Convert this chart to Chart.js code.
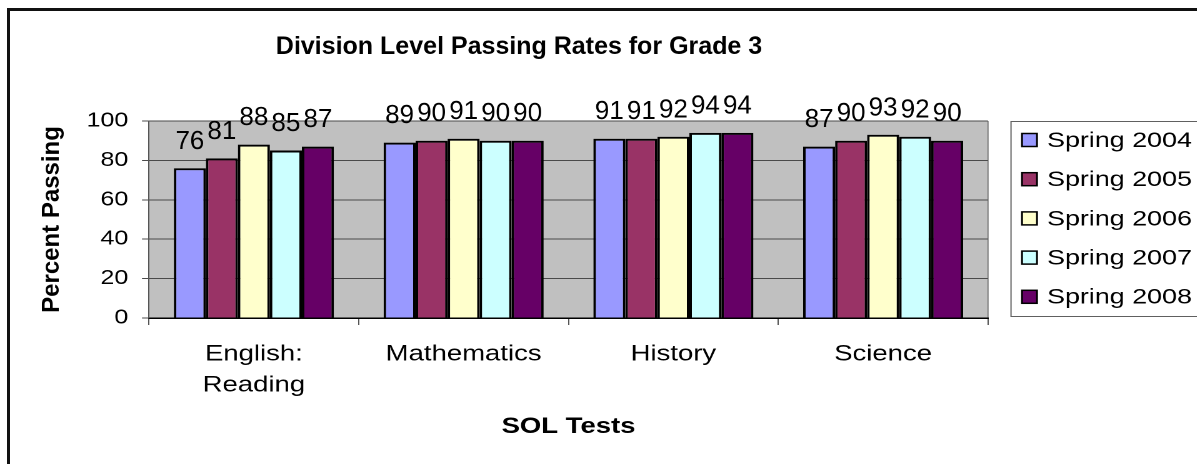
<!DOCTYPE html>
<html>
<head>
<meta charset="utf-8">
<script src="https://cdn.jsdelivr.net/npm/chart.js@4.4.1/dist/chart.umd.min.js"></script>
<style>
    html, body { margin: 0; padding: 0; background: #fff; overflow: hidden; }
    #frame {
        position: absolute; left: 7px; top: 8px; width: 2000px; height: 1000px;
        border-left: 3px solid #111; border-top: 3px solid #111;
    }
    /* the old Excel picture has wide, stretched axis text: draw narrower and stretch */
    #wrap {
        position: absolute; left: 0; top: 0; width: 958px; height: 464px;
        transform: scaleX(1.25); transform-origin: 0 0;
    }
</style>
</head>
<body>
<div id="frame"></div>
<div id="wrap"><canvas id="chart"></canvas></div>
<script>
const S = 1.25; // horizontal stretch

const chartTitle = 'Division Level Passing Rates for Grade 3';
const yTitle = 'Percent Passing';
const xTitle = 'SOL Tests';
const categories = [['English:', 'Reading'], 'Mathematics', 'History', 'Science'];
const seriesNames = ['Spring 2004', 'Spring 2005', 'Spring 2006', 'Spring 2007', 'Spring 2008'];
const spring2004 = [76, 89, 91, 87];
const spring2005 = [81, 90, 91, 90];
const spring2006 = [88, 91, 92, 93];
const spring2007 = [85, 90, 94, 92];
const spring2008 = [87, 90, 94, 90];
const yTicks = [0, 20, 40, 60, 80, 100];
const colors = ['#9999FF', '#993366', '#FFFFCC', '#CCFFFF', '#660066'];

const font = '"Liberation Sans", Arial, sans-serif';
const allSeries = [spring2004, spring2005, spring2006, spring2007, spring2008];

// grey plot area
const plotBg = {
    id: 'plotBg',
    beforeDraw(chart) {
        const a = chart.chartArea, ctx = chart.ctx;
        ctx.save();
        ctx.fillStyle = '#C0C0C0';
        ctx.fillRect(a.left, a.top, a.right - a.left, a.bottom - a.top);
        ctx.strokeStyle = '#808080';
        ctx.lineWidth = 1;
        ctx.beginPath();
        ctx.moveTo(a.right, a.top);
        ctx.lineTo(a.right, a.bottom);
        ctx.stroke();
        ctx.restore();
    }
};

// value labels over the bars (these are not stretched in the original)
const valueLabels = {
    id: 'valueLabels',
    afterDatasetsDraw(chart) {
        const ctx = chart.ctx;
        ctx.save();
        ctx.scale(1 / S, 1);
        ctx.font = '26px ' + font;
        ctx.fillStyle = '#000';
        ctx.textAlign = 'center';
        ctx.textBaseline = 'alphabetic';
        chart.data.datasets.forEach((ds, i) => {
            chart.getDatasetMeta(i).data.forEach((bar, j) => {
                ctx.fillText(String(ds.data[j]), bar.x * S, bar.y - 19.5);
            });
        });
        ctx.restore();
    }
};

// title, y title and legend box
const extras = {
    id: 'extras',
    afterDraw(chart) {
        const ctx = chart.ctx;
        const a = chart.chartArea;
        ctx.save();
        ctx.scale(1 / S, 1);
        ctx.fillStyle = '#000';
        ctx.textAlign = 'center';
        ctx.textBaseline = 'middle';
        ctx.font = 'bold 25px ' + font;
        ctx.fillText(chartTitle, 519, 47);
        ctx.translate(52, (a.top + a.bottom) / 2);
        ctx.rotate(-Math.PI / 2);
        ctx.font = 'bold 24px ' + font;
        ctx.fillText(yTitle, 0, 0);
        ctx.restore();

        ctx.save();
        const left = 1011 / S;
        ctx.strokeStyle = '#606060';
        ctx.lineWidth = 1;
        ctx.strokeRect(left, 121.5, chart.width + 10 - left, 195);
        ctx.font = '21.5px ' + font;
        ctx.textBaseline = 'middle';
        ctx.textAlign = 'left';
        chart.data.datasets.forEach((ds, i) => {
            const y = 140 + i * 39.2;
            ctx.fillStyle = ds.backgroundColor;
            ctx.fillRect(1022 / S, y - 6.5, 12, 13);
            ctx.strokeStyle = '#000';
            ctx.lineWidth = 1.5;
            ctx.strokeRect(1022 / S, y - 6.5, 12, 13);
            ctx.fillStyle = '#000';
            ctx.fillText(ds.label, 1047 / S, y + 1);
        });
        ctx.restore();
    }
};

new Chart(document.getElementById('chart'), {
    type: 'bar',
    data: {
        labels: categories,
        datasets: seriesNames.map((name, i) => ({
            label: name,
            data: allSeries[i],
            backgroundColor: colors[i],
            borderColor: '#000',
            borderWidth: 2,
            categoryPercentage: 0.763,
            barPercentage: 1.0
        }))
    },
    options: {
        responsive: true,
        maintainAspectRatio: false,
        animation: false,
        devicePixelRatio: 2,
        layout: { padding: { top: 121, right: 958 - 988 / S, bottom: 0, left: 0 } },
        plugins: {
            legend: { display: false },
            title: { display: false },
            tooltip: { enabled: false }
        },
        scales: {
            x: {
                afterFit(scale) { scale.height = 464 - 318; },
                grid: { drawOnChartArea: false, drawTicks: true, tickLength: 7, color: '#555', offset: true },
                border: { color: '#000', width: 1.5 },
                ticks: { color: '#000', font: { family: font, size: 22, lineHeight: 1.41 }, padding: 14, maxRotation: 0 },
                title: {
                    display: true, text: xTitle, color: '#000',
                    font: { family: font, size: 22, weight: 'bold', lineHeight: 1.2 },
                    padding: { top: 0, bottom: 24 }
                }
            },
            y: {
                min: 0,
                max: 100,
                afterFit(scale) { scale.width = 149 / S; },
                afterBuildTicks(scale) { scale.ticks = yTicks.map(v => ({ value: v })); },
                grid: { color: '#4a4a4a', lineWidth: 1, tickLength: 7 / S },
                border: { color: '#555', width: 1 },
                ticks: { color: '#000', font: { family: font, size: 20 }, padding: 11 }
            }
        }
    },
    plugins: [plotBg, valueLabels, extras]
});
</script>
</body>
</html>
